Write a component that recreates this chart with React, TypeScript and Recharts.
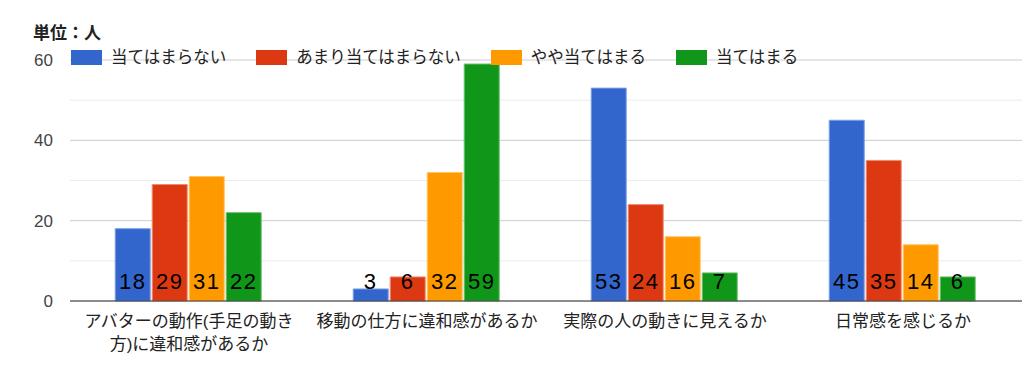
import { BarChart, Bar, XAxis, YAxis, CartesianGrid, ReferenceLine, LabelList } from 'recharts';

const categories = ['アバターの動作(手足の動き\n方)に違和感があるか', '移動の仕方に違和感があるか', '実際の人の動きに見えるか', '日常感を感じるか'];
const notAtAll = [18, 3, 53, 45];
const notReally = [29, 6, 24, 35];
const somewhat = [31, 32, 16, 14];
const applies = [22, 59, 7, 6];
const yTicks = [0, 20, 40, 60];
const minorTicks = [10, 30, 50];

const series = [
  { key: 'a', name: '当てはまらない', values: notAtAll, color: '#3366cc', edge: '#7da0e6' },
  { key: 'b', name: 'あまり当てはまらない', values: notReally, color: '#dc3912', edge: '#f08c70' },
  { key: 'c', name: 'やや当てはまる', values: somewhat, color: '#ff9900', edge: '#ffc466' },
  { key: 'd', name: '当てはまる', values: applies, color: '#109618', edge: '#6cc070' },
];

const data = categories.map((name, i) => {
  const row: Record<string, string | number> = { name };
  series.forEach((s) => { row[s.key] = s.values[i]; });
  return row;
});

const FONT = "'Liberation Sans', 'Noto Sans CJK JP', sans-serif";

function BarValue(props: any) {
  const { x, y, width, height, value } = props;
  return (
    <text x={x + width / 2} y={y + height - 12} textAnchor="middle" fontSize={22} letterSpacing={1.5} fill="#000" fontFamily={FONT}>
      {value}
    </text>
  );
}

function CategoryTick(props: any) {
  const { x, y, payload } = props;
  const lines = String(payload.value).split('\n');
  return (
    <g>
      {lines.map((ln, i) => (
        <text key={i} x={x} y={y + 18 + i * 23} textAnchor="middle" fontSize={17} fill="#222" fontFamily={FONT}>
          {ln}
        </text>
      ))}
    </g>
  );
}

function ValueTick(props: any) {
  const { y, payload } = props;
  return (
    <text x={53} y={y + 6} textAnchor="end" fontSize={17} fill="#444" fontFamily={FONT}>
      {payload.value}
    </text>
  );
}

function LegendBox() {
  return (
    <div style={{ position: 'absolute', left: 71, top: 48, display: 'flex', alignItems: 'center', gap: 30, fontFamily: FONT, fontSize: 16.5, color: '#222', lineHeight: '18px' }}>
      {series.map((s) => (
        <div key={s.key} style={{ display: 'flex', alignItems: 'center' }}>
          <div style={{ width: 31, height: 15, background: s.color, marginRight: 9 }} />
          <span>{s.name}</span>
        </div>
      ))}
    </div>
  );
}

export default function App() {
  return (
    <div style={{ position: 'absolute', left: 0, top: 0, width: 1024, height: 373, background: '#fff' }}>
      <BarChart width={1024} height={373} data={data} margin={{ top: 60, right: 2, left: 0, bottom: 12 }} barGap={2} barCategoryGap="19%">
        <CartesianGrid vertical={false} horizontalValues={minorTicks} stroke="#ebebeb" />
        <CartesianGrid vertical={false} stroke="#cccccc" />
        <XAxis dataKey="name" height={60} axisLine={false} tickLine={false} tick={<CategoryTick />} interval={0} />
        <YAxis width={70} domain={[0, 60]} ticks={yTicks} axisLine={false} tickLine={false} tick={<ValueTick />} />
        {series.map((s) => (
          <Bar key={s.key} dataKey={s.key} name={s.name} fill={s.color} stroke={s.edge} strokeWidth={1} isAnimationActive={false}>
            <LabelList dataKey={s.key} content={<BarValue />} />
          </Bar>
        ))}
        <ReferenceLine y={0} stroke="#333" />
      </BarChart>
      <div style={{ position: 'absolute', left: 33, top: 19, fontFamily: FONT, fontSize: 17, fontWeight: 700, color: '#222' }}>
        単位：人
      </div>
      <LegendBox />
    </div>
  );
}
